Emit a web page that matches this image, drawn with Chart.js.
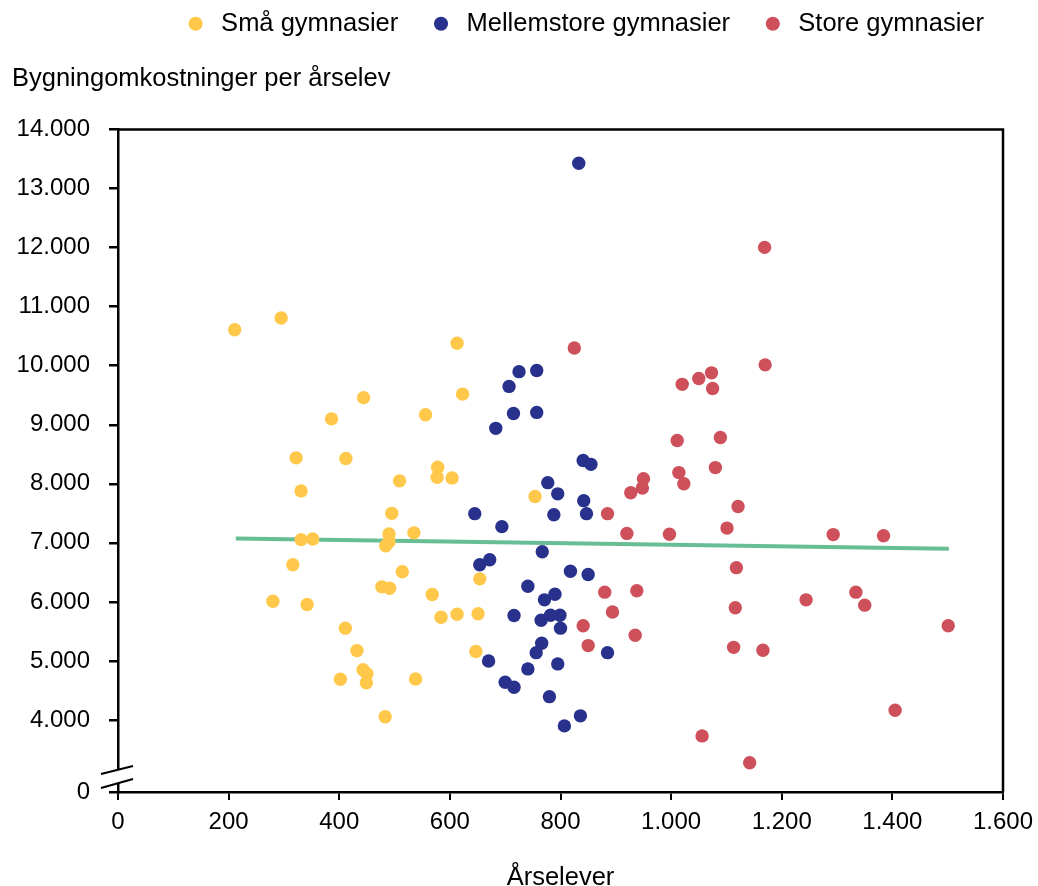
<!DOCTYPE html>
<html>
<head>
<meta charset="utf-8">
<script src="https://cdn.jsdelivr.net/npm/chart.js@4.4.1/dist/chart.umd.min.js"></script>
<style>
  html, body { margin: 0; padding: 0; background: #fff; overflow: hidden; }
  #wrap { width: 1038px; height: 900px; }
</style>
</head>
<body>
<div id="wrap"><canvas id="chart" width="1038" height="900"></canvas></div>
<script>
// scatter: building cost per student-year vs number of students

const seriesNames = ["Små gymnasier", "Mellemstore gymnasier", "Store gymnasier"];
const seriesColors = ["#FFC84A", "#28328C", "#CE505A"];
const trendColor = "#68BE94";

const smaaX = [211, 295, 613, 444, 623, 386, 556, 322, 412, 578, 577, 604, 509, 331, 754, 495, 490, 535, 331, 352, 490, 484, 316, 514, 654, 477, 491, 280, 342, 568, 584, 613, 651, 411, 432, 647, 443, 450, 402, 449, 538, 483];
const smaaY = [10610, 10810, 10380, 9460, 9520, 9100, 9170, 8440, 8430, 8280, 8110, 8100, 8050, 7880, 7785, 7500, 7150, 7170, 7055, 7065, 7020, 6950, 6630, 6510, 6390, 6255, 6230, 6010, 5955, 6125, 5740, 5790, 5800, 5555, 5175, 5160, 4850, 4785, 4690, 4630, 4695, 4055];

const mellemX = [833, 725, 757, 707, 715, 757, 683, 841, 855, 777, 795, 842, 645, 788, 847, 694, 767, 672, 654, 818, 850, 741, 790, 771, 716, 765, 782, 799, 800, 885, 766, 756, 670, 795, 741, 700, 716, 780, 836, 807];
const mellemY = [13430, 9900, 9920, 9650, 9190, 9210, 8940, 8395, 8330, 8020, 7830, 7715, 7495, 7475, 7495, 7275, 6850, 6715, 6630, 6520, 6465, 6265, 6130, 6035, 5770, 5690, 5775, 5775, 5555, 5140, 5300, 5140, 5000, 4950, 4865, 4640, 4555, 4395, 4070, 3900];

const storeX = [825, 1169, 1170, 1020, 1050, 1073, 1075, 1011, 1089, 950, 948, 927, 1014, 1023, 1080, 885, 1121, 920, 997, 1101, 1293, 1384, 880, 938, 894, 935, 1118, 1116, 1113, 1166, 1244, 1334, 1350, 1405, 1056, 1501, 841, 850, 1142];
const storeY = [10300, 12005, 10015, 9685, 9785, 9880, 9615, 8735, 8785, 8085, 7930, 7850, 8190, 8000, 8275, 7495, 7615, 7160, 7145, 7250, 7140, 7120, 6165, 6190, 5830, 5435, 6580, 5900, 5230, 5180, 6035, 6165, 5945, 4165, 3730, 5595, 5595, 5260, 3275];

// linear trend line (two end points)
const trendX = [213, 1502];
const trendY = [7075, 6900];

// axes
const xMin = 0, xMax = 1600, xStep = 200;
const yAxisMin = 2780;   // bottom of broken axis, labelled "0"
const yAxisMax = 14000;
const yTickValues = [4000, 5000, 6000, 7000, 8000, 9000, 10000, 11000, 12000, 13000, 14000];

const yTitle = "Bygningomkostninger per årselev";
const xTitle = "Årselever";

const FONT = "'Liberation Sans', Arial, sans-serif";

function fmt(v) {
  return String(v).replace(/\B(?=(\d{3})+(?!\d))/g, ".");
}

function pts(xs, ys) {
  return xs.map((x, i) => ({ x: x, y: ys[i] }));
}

// top/right frame + the break mark on the y axis
const frameAndBreak = {
  id: "frameAndBreak",
  afterDraw(chart) {
    const { ctx, chartArea: a } = chart;
    ctx.save();
    ctx.strokeStyle = "#000";
    ctx.lineWidth = 2.5;
    ctx.beginPath();
    ctx.moveTo(a.left - 1, a.top);
    ctx.lineTo(a.right, a.top);
    ctx.lineTo(a.right, a.bottom);
    ctx.stroke();

    ctx.fillStyle = "#fff";
    ctx.fillRect(a.left - 3, a.bottom - 22, 6, 13);
    ctx.lineWidth = 2;
    ctx.beginPath();
    ctx.moveTo(a.left - 17, a.bottom - 18);
    ctx.lineTo(a.left + 15, a.bottom - 26);
    ctx.moveTo(a.left - 17, a.bottom - 4);
    ctx.lineTo(a.left + 15, a.bottom - 13);
    ctx.stroke();
    ctx.restore();
  }
};

const scatterSets = [pts(smaaX, smaaY), pts(mellemX, mellemY), pts(storeX, storeY)].map((d, i) => ({
  type: "scatter",
  label: seriesNames[i],
  data: d,
  backgroundColor: seriesColors[i],
  borderColor: seriesColors[i],
  borderWidth: 0,
  pointRadius: 6.7,
  pointHoverRadius: 6.7
}));

const ctx = document.getElementById("chart").getContext("2d");
new Chart(ctx, {
  type: "scatter",
  data: {
    datasets: [
      ...scatterSets,
      {
        type: "line",
        label: "trend",
        data: pts(trendX, trendY),
        borderColor: trendColor,
        borderWidth: 4,
        pointRadius: 0,
        fill: false
      }
    ]
  },
  options: {
    responsive: false,
    animation: false,
    devicePixelRatio: 1,
    layout: { padding: { top: -19, right: 24, bottom: 0, left: 12 } },
    plugins: {
      tooltip: { enabled: false },
      legend: {
        position: "top",
        align: "end",
        weight: 3000,   // legend above the axis caption
        labels: {
          filter: (item) => item.text !== "trend",
          usePointStyle: true,
          pointStyle: "circle",
          boxWidth: 26,
          boxHeight: 10,
          padding: 30,
          color: "#000",
          font: { family: FONT, size: 25.5 }
        }
      },
      title: {
        display: true,
        text: yTitle,
        align: "start",
        weight: 500,
        color: "#000",
        font: { family: FONT, size: 25.5, weight: "normal" },
        padding: { top: 17, bottom: 35.5 }
      }
    },
    scales: {
      x: {
        type: "linear",
        min: xMin,
        max: xMax,
        afterFit: (scale) => { scale.height = 108; scale.paddingRight = 35; },
        ticks: {
          stepSize: xStep,
          color: "#000",
          padding: 8,
          font: { family: FONT, size: 24 },
          callback: (v) => fmt(v)
        },
        grid: { drawOnChartArea: false, drawTicks: true, tickLength: 8, color: "#000", lineWidth: 2 },
        border: { display: true, color: "#000", width: 2.5 },
        title: {
          display: true,
          text: xTitle,
          color: "#000",
          font: { family: FONT, size: 25.5 },
          padding: { top: 0, bottom: 7 }
        }
      },
      y: {
        type: "linear",
        min: yAxisMin,
        max: yAxisMax,
        afterFit: (scale) => { scale.width = 106; },
        afterBuildTicks: (scale) => {
          scale.ticks = [yAxisMin, ...yTickValues].map(v => ({ value: v }));
        },
        ticks: {
          color: "#000",
          padding: 19,
          font: { family: FONT, size: 24 },
          callback: (v) => v === yAxisMin ? "0" : fmt(v)
        },
        grid: { drawOnChartArea: false, drawTicks: true, tickLength: 9, color: "#000", lineWidth: 2.5 },
        border: { display: true, color: "#000", width: 2.5 }
      }
    }
  },
  plugins: [frameAndBreak]
});
</script>
</body>
</html>
